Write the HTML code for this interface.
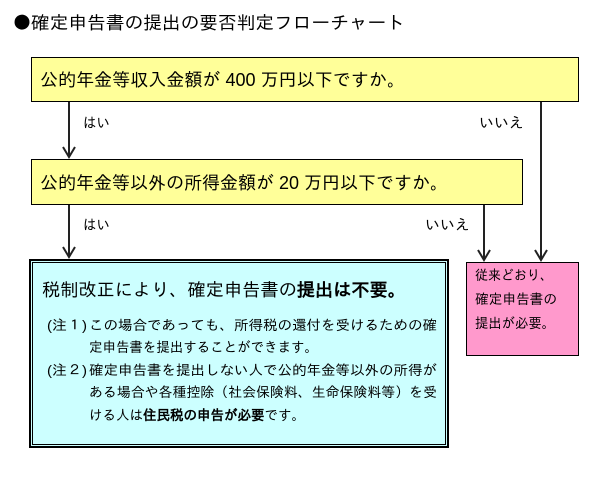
<!DOCTYPE html>
<html><head><meta charset="utf-8">
<style>
html,body{margin:0;padding:0;background:#fff;}
svg{display:block;}
text{font-family:"Liberation Sans","IPAGothic","Noto Sans CJK JP",sans-serif;fill:#000;}
</style></head>
<body>
<svg width="600" height="480" viewBox="0 0 600 480" xmlns="http://www.w3.org/2000/svg">
<rect x="0" y="0" width="600" height="480" fill="#fff"/>
<!-- title -->
<text x="13" y="29" font-size="18" style="font-family:'IPAGothic','Noto Sans CJK JP',sans-serif">●</text>
<text x="31" y="29" font-size="18" textLength="374" lengthAdjust="spacingAndGlyphs">確定申告書の提出の要否判定フローチャート</text>

<!-- box1 -->
<rect x="31.5" y="57.5" width="547" height="44" fill="#ffff99" stroke="#000" stroke-width="1"/>
<text x="40" y="86" font-size="18" textLength="365" lengthAdjust="spacingAndGlyphs">公的年金等収入金額が 400 万円以下ですか。</text>

<!-- box2 -->
<rect x="31.5" y="159.5" width="491" height="45" fill="#ffff99" stroke="#000" stroke-width="1"/>
<text x="40" y="189" font-size="18" textLength="408" lengthAdjust="spacingAndGlyphs">公的年金等以外の所得金額が 20 万円以下ですか。</text>

<!-- connectors -->
<g stroke="#222" stroke-width="2" fill="none">
<line x1="69" y1="102" x2="69" y2="157"/>
<polyline points="63,147 69,157 75,147"/>
<line x1="541" y1="102" x2="541" y2="260"/>
<polyline points="535,250 541,260 547,250"/>
<line x1="69" y1="205" x2="69" y2="257"/>
<polyline points="63,247 69,257 75,247"/>
<line x1="484" y1="205" x2="484" y2="260"/>
<polyline points="478,250 484,260 490,250"/>
</g>
<text x="83" y="128" font-size="15" textLength="27" lengthAdjust="spacingAndGlyphs">はい</text>
<text x="479" y="128" font-size="15" textLength="45" lengthAdjust="spacingAndGlyphs">いいえ</text>
<text x="83" y="230" font-size="15" textLength="27" lengthAdjust="spacingAndGlyphs">はい</text>
<text x="425" y="230" font-size="15" textLength="45" lengthAdjust="spacingAndGlyphs">いいえ</text>

<!-- blue box -->
<rect x="30" y="260" width="418" height="187" fill="#ccffff" stroke="#000" stroke-width="2"/>
<rect x="32.5" y="262.5" width="413" height="182" fill="none" stroke="#000" stroke-width="1"/>
<text x="42" y="296" font-size="18" textLength="364" lengthAdjust="spacingAndGlyphs">税制改正により、確定申告書の<tspan font-weight="bold">提出は不要。</tspan></text>

<text x="47" y="330" font-size="14" textLength="40" lengthAdjust="spacingAndGlyphs">(注１)</text>
<text x="89" y="330" font-size="14" textLength="348" lengthAdjust="spacingAndGlyphs">この場合であっても、所得税の還付を受けるための確</text>
<text x="89" y="352" font-size="14" textLength="229" lengthAdjust="spacingAndGlyphs">定申告書を提出することができます。</text>
<text x="47" y="375" font-size="14" textLength="40" lengthAdjust="spacingAndGlyphs">(注２)</text>
<text x="89" y="375" font-size="14" textLength="348" lengthAdjust="spacingAndGlyphs">確定申告書を提出しない人で公的年金等以外の所得が</text>
<text x="89" y="397" font-size="14" textLength="348" lengthAdjust="spacingAndGlyphs">ある場合や各種控除（社会保険料、生命保険料等）を受</text>
<text x="89" y="420" font-size="14" textLength="216" lengthAdjust="spacingAndGlyphs">ける人は<tspan font-weight="bold">住民税の申告が必要</tspan>です。</text>

<!-- pink box -->
<rect x="466.5" y="262.5" width="112" height="93" fill="#ff99cc" stroke="#000" stroke-width="1"/>
<text x="475" y="280" font-size="14" textLength="78" lengthAdjust="spacingAndGlyphs">従来どおり、</text>
<text x="475" y="304" font-size="14" textLength="82" lengthAdjust="spacingAndGlyphs">確定申告書の</text>
<text x="475" y="328" font-size="14" textLength="80" lengthAdjust="spacingAndGlyphs">提出が必要。</text>
</svg>
</body></html>
